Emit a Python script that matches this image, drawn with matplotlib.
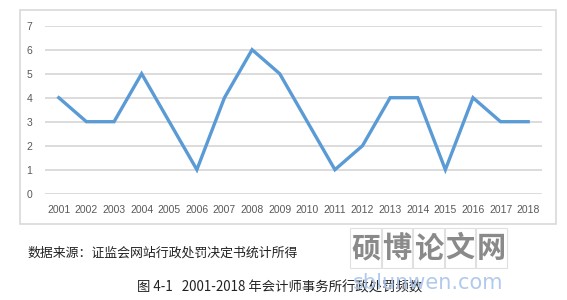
import matplotlib.pyplot as plt
from matplotlib.patches import Rectangle

years = [str(y) for y in range(2001, 2019)]
counts = [4, 3, 3, 5, 3, 1, 4, 6, 5, 3, 1, 2, 4, 4, 1, 4, 3, 3]
yticks = [0, 1, 2, 3, 4, 5, 6, 7]

source_text = "数据来源：证监会网站行政处罚决定书统计所得"
caption_text = "图 4-1   2001-2018 年会计师事务所行政处罚频数"
mark_cn = "硕博论文网"
mark_url = "sblunwen.com"

W, H = 567, 300
fig = plt.figure(figsize=(W / 100, H / 100), dpi=100)

# chart frame
fig.patches.append(Rectangle((20 / W, 1 - 224 / H), 536 / W, 214 / H,
                             transform=fig.transFigure, fill=False,
                             edgecolor="#d9d9d9", linewidth=1.2))

ax = fig.add_axes([45 / W, 1 - 193.7 / H, 497 / W, 168 / H])
x = list(range(len(years)))
ax.plot(x, counts, color="#5B9BD5", linewidth=2.4, solid_joinstyle="miter",
        clip_on=False, zorder=3)

ax.set_xlim(-0.5, len(years) - 0.5)
ax.set_ylim(0, 7)
ax.set_yticks(yticks)
ax.set_xticks(x)
ax.set_xticklabels(years)
ax.grid(axis="y", color="#d9d9d9", linewidth=1.3)
ax.set_axisbelow(True)
for s in ax.spines.values():
    s.set_visible(False)
ax.tick_params(length=0, labelsize=7.5, labelcolor="#595959", pad=8)
ax.tick_params(axis="y", pad=9)
for lab in ax.get_xticklabels() + ax.get_yticklabels():
    lab.set_family("Liberation Sans")

cjk = ["Noto Sans CJK SC", "DejaVu Sans"]
fig.text(27 / W, 1 - 253 / H, source_text, family=cjk, fontsize=9.3,
         va="center", ha="left", color="#222222")
fig.text(280 / W, 1 - 288 / H, caption_text, family=cjk, fontsize=9.6,
         va="center", ha="center", color="#222222")

# watermark: boxed characters
box_w = 31
for i, ch in enumerate(mark_cn):
    x0 = 350 + i * 31.5
    fig.patches.append(Rectangle((x0 / W, 1 - 268 / H), box_w / W, 40 / H,
                                 transform=fig.transFigure, fill=False,
                                 edgecolor="#e0e0e0", linewidth=0.8))
    fig.text((x0 + box_w / 2) / W, 1 - 248 / H, ch, family=cjk, fontsize=21,
             fontweight="bold", color="#8a8a8a", va="center", ha="center")
fig.text(428 / W, 1 - 283 / H, mark_url, family="DejaVu Sans", fontsize=15,
         color="#a8c4ea", va="center", ha="center", alpha=0.9)

fig.savefig("out.png", dpi=100)
